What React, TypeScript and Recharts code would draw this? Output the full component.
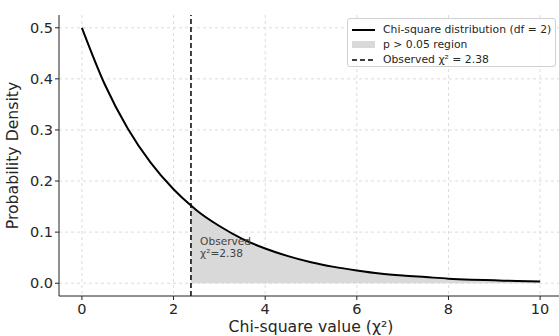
import {
  ComposedChart,
  Line,
  Area,
  XAxis,
  YAxis,
  CartesianGrid,
  ReferenceLine,
  ReferenceDot,
  Label,
} from "recharts";

const chiValues = [
  0, 0.5, 1, 1.5, 2, 2.38, 2.5, 3, 3.5, 4, 4.5, 5, 5.5, 6, 6.5, 7, 7.5, 8, 8.5,
  9, 9.5, 10,
];
const densityValues = [
  0.5, 0.389, 0.303, 0.236, 0.184, 0.152, 0.143, 0.112, 0.087, 0.068, 0.053,
  0.041, 0.032, 0.025, 0.019, 0.015, 0.012, 0.009, 0.007, 0.0056, 0.0043,
  0.0034,
];
const observedChi = 2.38;
const xTicks = [0, 2, 4, 6, 8, 10];
const yTicks = [0, 0.1, 0.2, 0.3, 0.4, 0.5];

const data = chiValues.map((x, i) => ({
  x,
  density: densityValues[i],
  shade: x >= observedChi ? densityValues[i] : null,
}));

const FONT = "'DejaVu Sans', sans-serif";
const TICK = { fill: "#262626", fontSize: 14.5, fontFamily: FONT };
const AXIS_LABEL = { fill: "#262626", fontSize: 15.7, fontFamily: FONT };

function LegendBox() {
  const row = { display: "flex", alignItems: "center", height: 15 };
  const swatch = { width: 23, marginRight: 8, flex: "none" };
  return (
    <div
      style={{
        position: "absolute",
        left: 347,
        top: 18,
        width: 209,
        height: 49,
        boxSizing: "border-box",
        background: "rgba(255,255,255,0.85)",
        border: "1px solid #d0d0d0",
        borderRadius: 3,
        padding: "3px 0 0 4px",
        fontFamily: FONT,
        fontSize: 10.8,
        color: "#262626",
        whiteSpace: "nowrap",
      }}
    >
      <div style={row}>
        <svg style={swatch} width={23} height={4}>
          <line x1={0} y1={2} x2={23} y2={2} stroke="#000" strokeWidth={2} />
        </svg>
        Chi-square distribution (df = 2)
      </div>
      <div style={row}>
        <div style={{ ...swatch, height: 7, background: "#d9d9d9" }} />
        p &gt; 0.05 region
      </div>
      <div style={row}>
        <svg style={swatch} width={23} height={4}>
          <line
            x1={0}
            y1={2}
            x2={23}
            y2={2}
            stroke="#000"
            strokeWidth={1.6}
            strokeDasharray="5 3"
          />
        </svg>
        Observed χ² = 2.38
      </div>
    </div>
  );
}

function ObservedText(props: any) {
  const { viewBox } = props;
  const x = viewBox.x;
  const y = viewBox.y;
  return (
    <text x={x} y={y} fontFamily={FONT} fontSize={10.6} fill="#444">
      <tspan x={x} dy={13}>Observed</tspan>
      <tspan x={x} dy={12}>χ²=2.38</tspan>
    </text>
  );
}

export default function App() {
  return (
    <div
      style={{
        position: "fixed",
        left: 0,
        top: 0,
        width: 559,
        height: 336,
        overflow: "hidden",
        background: "#fff",
      }}
    >
      <ComposedChart
        width={563}
        height={336}
        data={data}
        margin={{ top: 15, right: 0, bottom: 0, left: 0 }}
      >
        <CartesianGrid
          stroke="#dcdcdc"
          strokeDasharray="3 3"
          verticalValues={xTicks}
          horizontalValues={yTicks}
        />
        <XAxis
          dataKey="x"
          type="number"
          domain={[-0.5, 10.5]}
          ticks={xTicks}
          height={40}
          tickSize={4}
          stroke="#222"
          tick={TICK}
          tickMargin={4}
        >
          <Label
            value="Chi-square value (χ²)"
            position="insideBottom"
            offset={4}
            style={AXIS_LABEL}
          />
        </XAxis>
        <YAxis
          type="number"
          domain={[-0.025, 0.525]}
          ticks={yTicks}
          width={59}
          tickSize={4}
          stroke="#222"
          tickFormatter={(v: number) => v.toFixed(1)}
          tick={TICK}
          tickMargin={2}
        >
          <Label
            value="Probability Density"
            angle={-90}
            position="insideLeft"
            offset={12}
            style={{ ...AXIS_LABEL, textAnchor: "middle" }}
          />
        </YAxis>
        <Area
          dataKey="shade"
          type="monotone"
          fill="#d9d9d9"
          fillOpacity={1}
          stroke="none"
          isAnimationActive={false}
        />
        <Line
          dataKey="density"
          type="monotone"
          stroke="#000"
          strokeWidth={2}
          dot={false}
          isAnimationActive={false}
        />
        <ReferenceLine
          x={observedChi}
          stroke="#000"
          strokeWidth={1.5}
          strokeDasharray="5 3"
        />
        <ReferenceDot
          x={2.58}
          y={0.1}
          r={0}
          fill="none"
          stroke="none"
          label={<ObservedText />}
        />
      </ComposedChart>
      <LegendBox />
    </div>
  );
}
